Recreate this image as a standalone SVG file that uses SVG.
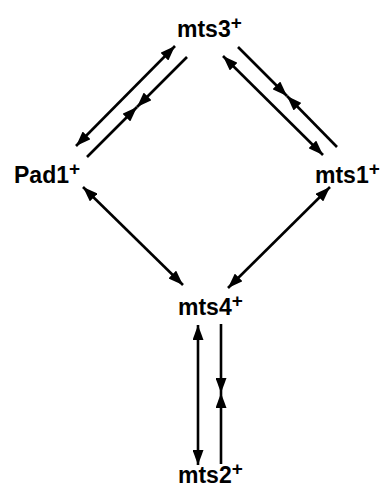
<svg xmlns="http://www.w3.org/2000/svg" width="386" height="488" viewBox="0 0 386 488">
<style>
.lbl{font-family:"Liberation Sans",Arial,sans-serif;font-weight:bold;font-size:23px;fill:#000}
.sup{font-size:19px}
.ln{stroke:#000;stroke-width:2.6;fill:none}
</style>
<defs>
<marker id="ah" markerUnits="userSpaceOnUse" markerWidth="15" markerHeight="11" refX="15" refY="5.5" orient="auto-start-reverse" viewBox="0 0 15 11">
<path d="M0,0 L15,5.5 L0,11 Z" fill="#000"/>
</marker>
</defs>
<rect width="386" height="488" fill="#fff"/>
<g id="mts3"><text class="lbl" x="177" y="37">mts3<tspan class="sup" dy="-8">+</tspan></text></g>
<g id="pad1"><text class="lbl" x="14" y="183">Pad1<tspan class="sup" dy="-8">+</tspan></text></g>
<g id="mts1"><text class="lbl" x="315" y="183">mts1<tspan class="sup" dy="-8">+</tspan></text></g>
<g id="mts4"><text class="lbl" x="178" y="315">mts4<tspan class="sup" dy="-8">+</tspan></text></g>
<g id="mts2"><text class="lbl" x="178" y="483">mts2<tspan class="sup" dy="-8">+</tspan></text></g>
<g id="connectors">
<line class="ln" x1="76" y1="146" x2="175" y2="46" marker-start="url(#ah)" marker-end="url(#ah)"/>
<line class="ln" x1="187" y1="57" x2="137" y2="107" marker-end="url(#ah)"/>
<line class="ln" x1="87" y1="157" x2="137" y2="107" marker-end="url(#ah)"/>
<line class="ln" x1="223" y1="56" x2="323" y2="155" marker-start="url(#ah)" marker-end="url(#ah)"/>
<line class="ln" x1="238" y1="47" x2="287" y2="96" marker-end="url(#ah)"/>
<line class="ln" x1="337" y1="147" x2="287" y2="96" marker-end="url(#ah)"/>
<line class="ln" x1="83" y1="187" x2="183" y2="285" marker-start="url(#ah)" marker-end="url(#ah)"/>
<line class="ln" x1="330" y1="187" x2="228" y2="288" marker-start="url(#ah)" marker-end="url(#ah)"/>
<line class="ln" x1="198" y1="325" x2="198" y2="465" marker-start="url(#ah)" marker-end="url(#ah)"/>
<line class="ln" x1="221" y1="324" x2="221" y2="393" marker-end="url(#ah)"/>
<line class="ln" x1="221" y1="464" x2="221" y2="393" marker-end="url(#ah)"/>
</g>
</svg>
